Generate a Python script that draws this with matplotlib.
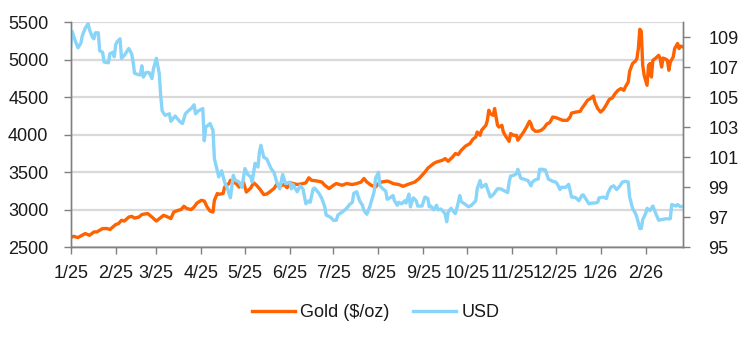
import numpy as np
import pandas as pd
import matplotlib
matplotlib.use("Agg")
import matplotlib.pyplot as plt

plt.rcParams['font.family'] = ['Liberation Sans', 'DejaVu Sans']

START = pd.Timestamp('2025-01-01')

# days since 1 Jan 2025, gold spot in $/oz
gold_days = [0, 2, 5, 10, 13, 16, 18, 22, 25, 27, 31, 33, 35, 37, 40, 42, 44, 47,
             49, 53, 56, 59, 62, 64, 67, 69, 71, 74, 76, 78, 80, 83, 85, 87, 90,
             92, 94, 96, 98, 99, 101, 102, 105, 106, 109, 110, 112, 114, 116, 119,
             121, 124, 126, 128, 130, 133, 135, 137, 140, 142, 144, 147, 149, 152,
             156, 159, 162, 164, 166, 170, 173, 175, 178, 181, 183, 187, 190, 194,
             197, 200, 202, 204, 207, 210, 212, 214, 218, 220, 222, 226, 229, 232,
             235, 237, 240, 242, 244, 246, 250, 252, 256, 258, 260, 263, 265, 267,
             269, 272, 275, 277, 279, 280, 282, 283, 286, 287, 288, 289, 291, 292,
             294, 295, 297, 298, 300, 302, 303, 305, 307, 308, 310, 312, 314, 316,
             317, 318, 320, 322, 324, 326, 328, 330, 332, 334, 337, 339, 342, 344,
             345, 348, 351, 352, 354, 356, 358, 360, 361, 363, 365, 367, 369, 371,
             373, 375, 377, 379, 381, 382, 384, 385, 387, 389, 390, 391, 392, 393,
             394, 395, 397, 398, 399, 400, 401, 403, 405, 406, 407, 408, 410, 411,
             412, 413, 415, 416, 418, 419, 420, 422]
gold = [2630, 2647, 2630, 2683, 2660, 2705, 2705, 2750, 2750, 2737, 2803, 2817,
        2860, 2850, 2903, 2913, 2890, 2903, 2937, 2950, 2903, 2850, 2897, 2927,
        2903, 2883, 2970, 2993, 3003, 3047, 3017, 3003, 3037, 3090, 3127, 3117,
        3037, 2983, 2970, 3127, 3217, 3207, 3217, 3303, 3350, 3393, 3370, 3350,
        3303, 3370, 3237, 3290, 3360, 3327, 3283, 3203, 3210, 3237, 3283, 3340,
        3310, 3340, 3295, 3357, 3337, 3345, 3360, 3427, 3393, 3383, 3370, 3327,
        3283, 3327, 3350, 3327, 3350, 3337, 3350, 3370, 3417, 3370, 3327, 3303,
        3350, 3370, 3383, 3370, 3350, 3337, 3313, 3337, 3357, 3370, 3417, 3460,
        3503, 3555, 3617, 3637, 3660, 3683, 3647, 3703, 3750, 3737, 3793, 3850,
        3883, 3940, 3970, 4037, 3993, 4060, 4127, 4193, 4327, 4283, 4260, 4350,
        4127, 4103, 4127, 4037, 3970, 3913, 4017, 3993, 3993, 3927, 3983, 4037,
        4103, 4180, 4150, 4083, 4047, 4047, 4060, 4090, 4145, 4163, 4237, 4230,
        4207, 4193, 4193, 4237, 4290, 4303, 4313, 4350, 4403, 4460, 4483, 4517,
        4437, 4350, 4303, 4340, 4403, 4473, 4490, 4550, 4593, 4617, 4593, 4637,
        4703, 4847, 4950, 4983, 5017, 5150, 5407, 5380, 4927, 4793, 4660, 4927,
        4950, 4770, 4993, 5023, 5060, 5017, 4903, 5023, 5007, 4993, 4860, 4970,
        5037, 5150, 5217, 5150, 5183, 5170]

# days since 1 Jan 2025, dollar index
usd_days = [0, 1, 3, 5, 7, 8, 10, 12, 13, 15, 16, 17, 19, 20, 22, 23, 26, 27, 29,
            30, 31, 32, 34, 35, 37, 39, 40, 42, 43, 44, 47, 48, 49, 50, 52, 54,
            56, 57, 59, 61, 62, 63, 65, 68, 69, 72, 75, 77, 79, 81, 83, 85, 86,
            88, 91, 92, 93, 96, 98, 99, 101, 102, 104, 106, 108, 110, 112, 113,
            116, 118, 120, 122, 124, 125, 127, 129, 130, 131, 133, 135, 138, 140,
            142, 143, 144, 146, 148, 151, 152, 153, 156, 158, 160, 162, 164, 165,
            167, 168, 171, 173, 175, 176, 179, 181, 183, 184, 187, 189, 191, 192,
            194, 195, 197, 199, 201, 202, 204, 206, 209, 210, 212, 213, 215, 217,
            218, 220, 222, 223, 225, 226, 228, 230, 231, 233, 234, 236, 238, 239,
            242, 244, 246, 247, 248, 250, 252, 253, 255, 257, 258, 259, 260, 262,
            264, 265, 267, 268, 269, 272, 274, 276, 279, 280, 282, 283, 286, 287,
            289, 291, 294, 296, 298, 301, 302, 303, 305, 307, 308, 310, 312, 315,
            317, 318, 320, 322, 323, 325, 327, 329, 330, 332, 334, 335, 337, 338,
            341, 343, 345, 346, 348, 350, 352, 353, 355, 357, 359, 361, 363, 364,
            367, 369, 370, 372, 374, 376, 378, 380, 382, 384, 385, 387, 389, 390,
            392, 393, 394, 396, 397, 399, 401, 403, 405, 407, 410, 413, 414, 417,
            418, 420, 422]
usd = [108.42, 109.4, 108.8, 108.3, 108.6, 109.1, 109.6, 109.9, 109.5, 109.0,
       108.9, 109.3, 109.3, 108.1, 108.0, 107.35, 107.3, 107.9, 108.0, 107.7,
       108.5, 108.7, 108.9, 107.6, 107.8, 108.1, 108.25, 107.9, 107.35, 106.6,
       106.5, 106.5, 107.1, 106.35, 106.65, 106.65, 106.25, 106.9, 107.6, 106.6,
       105.1, 104.1, 103.8, 103.9, 103.4, 103.75, 103.4, 103.25, 103.9, 104.1,
       104.25, 104.5, 103.9, 104.1, 104.25, 102.1, 103.0, 103.25, 102.8, 100.9,
       100.1, 99.7, 100.1, 99.35, 98.9, 98.3, 99.8, 99.5, 99.35, 99.0, 100.25,
       99.85, 99.7, 99.35, 100.6, 100.35, 101.35, 101.8, 101.0, 100.9, 100.25,
       100.0, 99.35, 99.1, 98.9, 99.85, 99.25, 99.35, 98.9, 99.2, 98.7, 99.1,
       98.9, 97.9, 98.1, 98.0, 98.9, 98.95, 98.6, 98.25, 97.7, 97.15, 97.0, 96.8,
       96.8, 97.15, 97.35, 97.5, 97.7, 97.85, 98.0, 98.6, 98.7, 98.1, 97.8,
       97.45, 97.2, 97.7, 98.7, 99.6, 100.0, 99.1, 98.9, 98.75, 98.2, 98.3,
       98.45, 98.1, 97.8, 98.0, 97.9, 98.1, 97.95, 98.55, 97.7, 98.3, 98.1,
       97.75, 97.75, 98.35, 98.25, 97.7, 97.75, 97.5, 97.8, 97.5, 97.55, 97.35,
       97.2, 96.7, 97.35, 97.6, 97.35, 97.25, 98.0, 98.45, 98.05, 97.85, 97.7,
       97.8, 98.1, 98.9, 99.45, 99.0, 99.2, 98.9, 98.35, 98.5, 98.9, 98.9, 98.8,
       98.65, 99.35, 99.75, 99.8, 99.9, 100.2, 99.6, 99.55, 99.45, 99.1, 99.35,
       99.5, 99.55, 100.2, 100.2, 100.15, 99.55, 99.5, 99.4, 99.35, 99.25,
       98.85, 99.0, 99.0, 99.2, 98.35, 98.35, 98.3, 98.1, 98.45, 98.5, 98.2,
       97.9, 97.95, 97.95, 98.0, 98.3, 98.35, 98.25, 98.6, 99.0, 99.1, 98.85,
       99.05, 99.35, 99.4, 99.35, 98.35, 97.6, 97.25, 97.0, 96.25, 96.25, 96.85,
       97.25, 97.6, 97.45, 97.75, 97.25, 96.8, 96.85, 96.9, 96.9, 97.85, 97.75,
       97.85, 97.7, 97.75]

GOLD_COL = '#FF6200'
USD_COL = '#89D4F9'
TXT = '#1a1a1a'
AX_COL = '#808080'

gold_dates = START + pd.to_timedelta(gold_days, unit='D')
usd_dates = START + pd.to_timedelta(usd_days, unit='D')
month_ticks = pd.date_range('2025-01-01', '2026-02-01', freq='MS')
month_labels = [f"{d.month}/{d.year % 100}" for d in month_ticks]

fig = plt.figure(figsize=(7.44, 3.43), dpi=100)
ax = fig.add_axes([0.095, 0.279, 0.8235, 0.656])
ax2 = ax.twinx()

ax.plot(gold_dates, gold, color=GOLD_COL, lw=2.4, label='Gold ($/oz)')
ax2.plot(usd_dates, usd, color=USD_COL, lw=2.4, label='USD')

ax.set_xlim(START, START + pd.Timedelta(days=422))
ax.set_ylim(2500, 5500)
ax.set_yticks(np.arange(2500, 5501, 500))
ax2.set_ylim(95, 110)
ax2.set_yticks(np.arange(95, 110, 2))
ax.set_xticks(month_ticks)
ax.set_xticklabels(month_labels)

ax.grid(axis='y', color='#D9D9D9', lw=1.6)
ax.set_axisbelow(True)

for a in (ax, ax2):
    a.spines['top'].set_visible(False)
    for s in ('left', 'right', 'bottom'):
        a.spines[s].set_color(AX_COL)
        a.spines[s].set_linewidth(1.0)
    a.tick_params(colors=AX_COL, labelcolor=TXT, labelsize=13, length=5, width=1)
ax.tick_params(axis='x', pad=8)
ax.tick_params(axis='y', pad=11)
ax2.tick_params(axis='y', pad=13)

h1, l1 = ax.get_legend_handles_labels()
h2, l2 = ax2.get_legend_handles_labels()
leg = fig.legend(h1 + h2, l1 + l2, loc='center', bbox_to_anchor=(0.505, 0.088),
                 ncol=2, frameon=False, fontsize=13, handlelength=2.4,
                 columnspacing=1.3, handletextpad=0.3)
for t in leg.get_texts():
    t.set_color(TXT)

fig.savefig('out.png', dpi=100)
